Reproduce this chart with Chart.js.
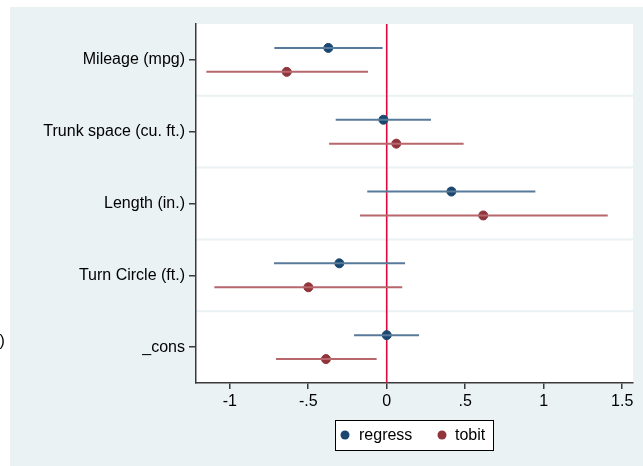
<!DOCTYPE html>
<html>
<head>
<meta charset="utf-8">
<script src="https://cdn.jsdelivr.net/npm/chart.js@4/dist/chart.umd.min.js"></script>
<style>
  html, body { margin: 0; padding: 0; background: #fff; }
  #wrap { width: 643px; height: 466px; position: relative; }
</style>
</head>
<body>
<div id="wrap"><canvas id="coefplot" width="643" height="466"></canvas></div>
<script>
// coefficients and 95% intervals, one row per variable
var variables = ['Mileage (mpg)', 'Trunk space (cu. ft.)', 'Length (in.)', 'Turn Circle (ft.)', '_cons'];
var xTicks = [-1, -0.5, 0, 0.5, 1, 1.5];

var regressB  = [-0.372, -0.021, 0.412, -0.302, 0.000];
var regressLo = [-0.716, -0.325, -0.124, -0.718, -0.208];
var regressHi = [-0.026, 0.282, 0.947, 0.117, 0.206];

var tobitB  = [-0.637, 0.061, 0.615, -0.499, -0.387];
var tobitLo = [-1.149, -0.367, -0.170, -1.098, -0.705];
var tobitHi = [-0.119, 0.490, 1.408, 0.099, -0.064];

var BG = '#eaf2f3';
var AXIS = '#3a3a3a';
var FONT = '"Liberation Sans", Arial, Helvetica, sans-serif';

var models = [
  { label: 'regress', b: regressB, lo: regressLo, hi: regressHi, dot: '#1a476f', ci: '#587a9a', off: -1/6 },
  { label: 'tobit',   b: tobitB,   lo: tobitLo,   hi: tobitHi,   dot: '#90353b', ci: '#b7666c', off: 1/6 }
];

var datasets = [];
models.forEach(function (m) {
  // confidence interval segments
  variables.forEach(function (v, i) {
    datasets.push({
      type: 'line',
      label: m.label + ' ci',
      data: [{ x: m.lo[i], y: i + 1 + m.off }, { x: m.hi[i], y: i + 1 + m.off }],
      borderColor: m.ci,
      borderWidth: 2,
      pointRadius: 0,
      fill: false
    });
  });
});
models.forEach(function (m) {
  datasets.push({
    type: 'scatter',
    label: m.label,
    data: m.b.map(function (b, i) { return { x: b, y: i + 1 + m.off }; }),
    backgroundColor: m.dot,
    borderColor: m.dot,
    pointRadius: 4.5,
    pointHoverRadius: 4.5
  });
});

// graph region, separators, zero line, stray label and boxed legend
var decor = {
  id: 'decor',
  beforeDraw: function (chart) {
    var c = chart.ctx, a = chart.chartArea, y = chart.scales.y;
    c.save();
    c.fillStyle = BG;
    c.fillRect(10, 7, chart.width - 10, chart.height - 7);
    c.fillStyle = '#fff';
    c.fillRect(a.left, a.top, a.right - a.left, a.bottom - a.top);
    c.strokeStyle = BG;
    c.lineWidth = 2;
    for (var i = 1; i < variables.length; i++) {
      var py = y.getPixelForValue(i + 0.5);
      c.beginPath(); c.moveTo(a.left, py); c.lineTo(a.right, py); c.stroke();
    }
    c.fillStyle = '#000';
    c.font = '16px ' + FONT;
    c.textBaseline = 'middle';
    c.fillText(')', -0.5, 342);
    c.restore();
  },
  beforeDatasetsDraw: function (chart) {
    var c = chart.ctx, a = chart.chartArea, x = chart.scales.x;
    var px = x.getPixelForValue(0);
    c.save();
    c.strokeStyle = '#dc0a3c';
    c.lineWidth = 1.6;
    c.beginPath(); c.moveTo(px, a.top); c.lineTo(px, a.bottom); c.stroke();
    c.restore();
  },
  afterDraw: function (chart) {
    var c = chart.ctx;
    var bx = 335, by = 420, bw = 158, bh = 30;
    c.save();
    c.fillStyle = '#fff';
    c.fillRect(bx, by, bw, bh);
    c.strokeStyle = '#000';
    c.lineWidth = 1;
    c.strokeRect(bx + 0.5, by + 0.5, bw, bh);
    c.font = '16px ' + FONT;
    c.textBaseline = 'middle';
    var pos = [{ dot: 345, text: 359 }, { dot: 442, text: 455 }];
    models.forEach(function (m, k) {
      c.fillStyle = m.dot;
      c.beginPath(); c.arc(pos[k].dot, by + 15, 4.5, 0, Math.PI * 2); c.fill();
      c.fillStyle = '#000';
      c.fillText(m.label, pos[k].text, by + 16);
    });
    c.restore();
  }
};

new Chart(document.getElementById('coefplot'), {
  type: 'scatter',
  data: { datasets: datasets },
  options: {
    responsive: false,
    animation: false,
    layout: { padding: { top: 24, right: 10, bottom: 0, left: 0 } },
    plugins: {
      legend: { display: false },
      tooltip: { enabled: false }
    },
    scales: {
      x: {
        type: 'linear',
        min: -1.215,
        max: 1.569,
        afterBuildTicks: function (s) { s.ticks = xTicks.map(function (v) { return { value: v }; }); },
        afterFit: function (s) { s.height = 83; },
        ticks: {
          color: '#000',
          font: { family: FONT, size: 16 },
          padding: 3,
          maxRotation: 0,
          callback: function (v) {
            var s = String(v);
            return s.replace(/^0\./, '.').replace(/^-0\./, '-.');
          }
        },
        grid: { drawOnChartArea: false, color: AXIS, tickLength: 6, lineWidth: 1.5 },
        border: { color: AXIS, width: 1.5 }
      },
      y: {
        type: 'linear',
        reverse: true,
        min: 0.5,
        max: 5.5,
        afterBuildTicks: function (s) { s.ticks = variables.map(function (v, i) { return { value: i + 1 }; }); },
        afterFit: function (s) { s.width = 196; },
        ticks: {
          color: '#000',
          font: { family: FONT, size: 16 },
          padding: 4,
          callback: function (v) { return variables[v - 1]; }
        },
        grid: { drawOnChartArea: false, color: AXIS, tickLength: 7, lineWidth: 1.5 },
        border: { color: AXIS, width: 1.5 }
      }
    }
  },
  plugins: [decor]
});
</script>
</body>
</html>
